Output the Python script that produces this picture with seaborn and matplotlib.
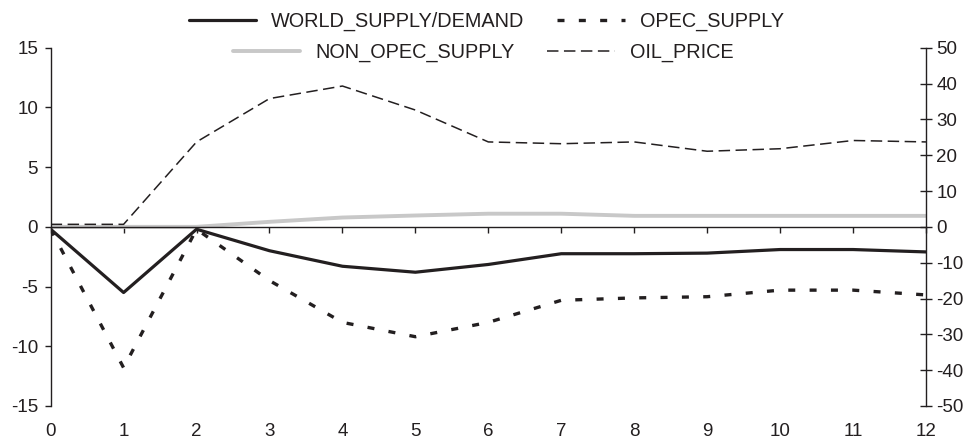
import matplotlib
matplotlib.use("Agg")
import matplotlib.pyplot as plt
import seaborn as sns
import numpy as np

# Impulse responses over 12 periods
periods = list(range(13))
world_supply_demand = [-0.2, -5.5, -0.2, -2.0, -3.3, -3.8, -3.15, -2.25, -2.25, -2.2, -1.9, -1.9, -2.1]
opec_supply = [-0.2, -11.8, -0.2, -4.5, -8.0, -9.2, -8.0, -6.15, -5.95, -5.85, -5.3, -5.3, -5.7]
non_opec_supply = [0.0, 0.0, 0.0, 0.42, 0.78, 0.95, 1.1, 1.1, 0.92, 0.92, 0.92, 0.92, 0.92]
oil_price = [0.7, 0.7, 23.7, 35.8, 39.3, 32.6, 23.7, 23.2, 23.7, 21.1, 21.8, 24.1, 23.7]

left_ticks = [-15, -10, -5, 0, 5, 10, 15]
right_ticks = [-50, -40, -30, -20, -10, 0, 10, 20, 30, 40, 50]

sns.set_theme(style="white")
plt.rcParams["font.family"] = ["Liberation Sans", "DejaVu Sans"]
plt.rcParams["axes.unicode_minus"] = False
ink = "#231f20"

fig = plt.figure(figsize=(9.74, 4.40), dpi=100)
ax = fig.add_axes([0.052, 0.0773, 0.8987, 0.8143])
ax2 = ax.twinx()

sns.lineplot(x=periods, y=non_opec_supply, ax=ax, color="#c8c8c8", lw=2.8,
             label="NON_OPEC_SUPPLY", legend=False)
sns.lineplot(x=periods, y=world_supply_demand, ax=ax, color=ink, lw=2.3,
             label="WORLD_SUPPLY/DEMAND", legend=False)
sns.lineplot(x=periods, y=opec_supply, ax=ax, color=ink, lw=2.4,
             linestyle=(0, (2.1, 4.3)), label="OPEC_SUPPLY", legend=False)
sns.lineplot(x=periods, y=oil_price, ax=ax2, color=ink, lw=1.1,
             linestyle=(0, (7.5, 3.6)), label="OIL_PRICE", legend=False)

ax.set_xlim(0, 12)
ax.set_ylim(-15, 15)
ax2.set_ylim(-50, 50)
ax.set_xticks(periods)
ax.set_yticks(left_ticks)
ax2.set_yticks(right_ticks)
ax.margins(x=0)

# Horizontal axis sits on the zero line, labels stay at the bottom
ax.spines["bottom"].set_position(("data", 0))
for s in ["top", "right"]:
    ax.spines[s].set_visible(False)
for s in ["top", "left", "bottom"]:
    ax2.spines[s].set_visible(False)
for sp in [ax.spines["bottom"], ax.spines["left"], ax2.spines["right"]]:
    sp.set_color(ink)
    sp.set_linewidth(1.0)

ax.tick_params(axis="x", direction="out", length=4, width=1, color=ink,
               labelsize=13.5, labelcolor=ink, pad=137, bottom=True)
ax.tick_params(axis="y", direction="out", length=4, width=1, color=ink,
               labelsize=13.5, labelcolor=ink, pad=5, left=True)
ax2.tick_params(axis="y", direction="inout", length=9, width=1, color=ink,
                labelsize=13.5, labelcolor=ink, pad=3, right=True)
ax.set_xlabel("")
ax.set_ylabel("")
ax2.set_ylabel("")

h_np, h_world, h_opec = ax.lines[0], ax.lines[1], ax.lines[2]
h_oil = ax2.lines[0]

legend_kw = dict(ncol=2, frameon=False, fontsize=14.3, handlelength=3.4,
                 handletextpad=0.75, columnspacing=1.65, loc="center",
                 labelcolor=ink, borderpad=0, borderaxespad=0)
leg1 = fig.legend([h_world, h_opec], ["WORLD_SUPPLY/DEMAND", "OPEC_SUPPLY"],
                  bbox_to_anchor=(0.499, 0.952), **legend_kw)
leg2 = fig.legend([h_np, h_oil], ["NON_OPEC_SUPPLY", "OIL_PRICE"],
                  bbox_to_anchor=(0.496, 0.880), **legend_kw)

fig.savefig("out.png", dpi=100)
